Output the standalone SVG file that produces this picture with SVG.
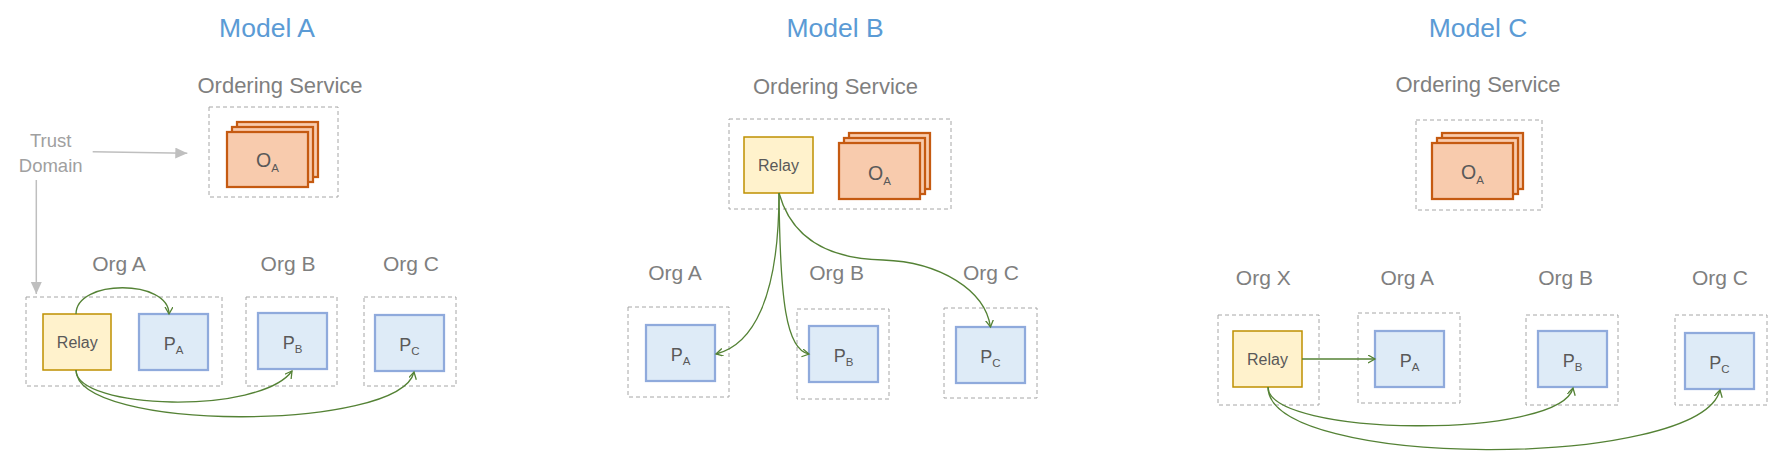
<svg xmlns="http://www.w3.org/2000/svg" width="1783" height="472" viewBox="0 0 1783 472">
<defs>
<style>
text{font-family:"Liberation Sans",Arial,sans-serif;text-anchor:middle}
.title{font-size:26.5px;fill:#5B9BD5}
.lbl{font-size:22px;fill:#7F7F7F}
.org{font-size:21px;fill:#7F7F7F}
.trust{font-size:18.5px;fill:#A0A0A0}
.dash{fill:none;stroke:#A6A6A6;stroke-width:1;stroke-dasharray:4 3}
.ord{fill:#F8CBAD;stroke:#C55A11;stroke-width:2.25}
.relay{fill:#FFF2CC;stroke:#BF9000;stroke-width:1.5}
.peer{fill:#DEEBF7;stroke:#8FAADC;stroke-width:2.25}
.rt{font-size:16px;fill:#595959}
.pt{font-size:18px;fill:#595959}
.ot{font-size:19.5px;fill:#595959}
.sub{font-size:11.5px}
.conn{fill:none;stroke:#548235;stroke-width:1.3}
.gray{fill:none;stroke:#BFBFBF;stroke-width:1.5}
</style>
<marker id="open" markerUnits="userSpaceOnUse" markerWidth="10" markerHeight="10" refX="7" refY="4" orient="auto">
<path d="M0,0 L7,4 L0,8" fill="none" stroke="#548235" stroke-width="1.3"/>
</marker>
<marker id="tri" markerUnits="userSpaceOnUse" markerWidth="14" markerHeight="12" refX="12" refY="5.5" orient="auto">
<path d="M0,0 L12,5.5 L0,11 z" fill="#BFBFBF"/>
</marker>
</defs>

<!-- Model A -->
<g id="modelA-title"><text class="title" x="267" y="36.7">Model A</text></g>
<g id="modelA-ordering">
<text class="lbl" x="280" y="92.7">Ordering Service</text>
<rect class="dash" x="209" y="107" width="129" height="90"/>
<rect class="ord" x="237" y="122" width="81" height="55"/>
<rect class="ord" x="232" y="127" width="81" height="55"/>
<rect class="ord" x="227" y="132" width="81" height="55"/>
<text class="ot" x="267.5" y="166.7">O<tspan class="sub" dy="5">A</tspan></text>
</g>
<g id="modelA-trust">
<text class="trust" x="50.7" y="146.7">Trust</text>
<text class="trust" x="50.7" y="171.7">Domain</text>
</g>
<g id="modelA-orgA">
<text class="org" x="119" y="270.7">Org A</text>
<rect class="dash" x="26" y="297" width="196" height="89"/>
</g>
<g id="modelA-relay">
<rect class="relay" x="43" y="314" width="68" height="56"/>
<text class="rt" x="77.3" y="348.3">Relay</text>
</g>
<g id="modelA-pA">
<rect class="peer" x="139" y="314" width="69" height="56"/>
<text class="pt" x="173.5" y="350">P<tspan class="sub" dy="3.5">A</tspan></text>
</g>
<g id="modelA-orgB">
<text class="org" x="288" y="270.7">Org B</text>
<rect class="dash" x="246" y="297" width="91" height="89"/>
<rect class="peer" x="258" y="313" width="69" height="56"/>
<text class="pt" x="292.5" y="349">P<tspan class="sub" dy="3.5">B</tspan></text>
</g>
<g id="modelA-orgC">
<text class="org" x="411" y="270.7">Org C</text>
<rect class="dash" x="364" y="297" width="92" height="89"/>
<rect class="peer" x="375" y="315" width="69" height="56"/>
<text class="pt" x="409.5" y="351">P<tspan class="sub" dy="3.5">C</tspan></text>
</g>

<!-- Model B -->
<g id="modelB-title"><text class="title" x="835" y="36.7">Model B</text></g>
<g id="modelB-ordering">
<text class="lbl" x="835.5" y="93.8">Ordering Service</text>
<rect class="dash" x="729" y="119" width="222" height="90"/>
<rect class="ord" x="849" y="133" width="81" height="56"/>
<rect class="ord" x="844" y="138" width="81" height="56"/>
<rect class="ord" x="839" y="143" width="81" height="56"/>
<text class="ot" x="879.5" y="180">O<tspan class="sub" dy="5">A</tspan></text>
</g>
<g id="modelB-relay">
<rect class="relay" x="744" y="137" width="69" height="56"/>
<text class="rt" x="778.5" y="170.5">Relay</text>
</g>
<g id="modelB-orgA">
<text class="org" x="675" y="280">Org A</text>
<rect class="dash" x="628" y="307" width="101" height="90"/>
<rect class="peer" x="646" y="325" width="69" height="56"/>
<text class="pt" x="680.5" y="361">P<tspan class="sub" dy="3.5">A</tspan></text>
</g>
<g id="modelB-orgB">
<text class="org" x="836.7" y="280">Org B</text>
<rect class="dash" x="797" y="309" width="92" height="90"/>
<rect class="peer" x="809" y="326" width="69" height="56"/>
<text class="pt" x="843.5" y="362">P<tspan class="sub" dy="3.5">B</tspan></text>
</g>
<g id="modelB-orgC">
<text class="org" x="991" y="280">Org C</text>
<rect class="dash" x="944" y="308" width="93" height="90"/>
<rect class="peer" x="956" y="327" width="69" height="56"/>
<text class="pt" x="990.5" y="363">P<tspan class="sub" dy="3.5">C</tspan></text>
</g>

<!-- Model C -->
<g id="modelC-title"><text class="title" x="1478" y="36.7">Model C</text></g>
<g id="modelC-ordering">
<text class="lbl" x="1478" y="91.7">Ordering Service</text>
<rect class="dash" x="1416" y="120" width="126" height="90"/>
<rect class="ord" x="1442" y="133" width="81" height="56"/>
<rect class="ord" x="1437" y="138" width="81" height="56"/>
<rect class="ord" x="1432" y="143" width="81" height="56"/>
<text class="ot" x="1472.5" y="179">O<tspan class="sub" dy="5">A</tspan></text>
</g>
<g id="modelC-orgX">
<text class="org" x="1263.3" y="285">Org X</text>
<rect class="dash" x="1218" y="315" width="101" height="90"/>
</g>
<g id="modelC-relay">
<rect class="relay" x="1233" y="331" width="69" height="56"/>
<text class="rt" x="1267.5" y="364.5">Relay</text>
</g>
<g id="modelC-orgA">
<text class="org" x="1407.3" y="285">Org A</text>
<rect class="dash" x="1358" y="313" width="102" height="90"/>
<rect class="peer" x="1375" y="331" width="69" height="56"/>
<text class="pt" x="1409.5" y="367">P<tspan class="sub" dy="3.5">A</tspan></text>
</g>
<g id="modelC-orgB">
<text class="org" x="1565.7" y="285">Org B</text>
<rect class="dash" x="1526" y="315" width="92" height="90"/>
<rect class="peer" x="1538" y="331" width="69" height="56"/>
<text class="pt" x="1572.5" y="367">P<tspan class="sub" dy="3.5">B</tspan></text>
</g>
<g id="modelC-orgC">
<text class="org" x="1720" y="285">Org C</text>
<rect class="dash" x="1675" y="315" width="92" height="90"/>
<rect class="peer" x="1685" y="333" width="69" height="56"/>
<text class="pt" x="1719.5" y="369">P<tspan class="sub" dy="3.5">C</tspan></text>
</g>

<!-- Connectors -->
<g id="connectors">
<path class="gray" d="M92.7,151.7 L187.3,153.3" marker-end="url(#tri)"/>
<path class="gray" d="M36.3,180 L36.3,294" marker-end="url(#tri)"/>
<path class="conn" d="M76,314 C76,279 169,279 169,314" marker-end="url(#open)"/>
<path class="conn" d="M76,370 C76,410 260,415 292,371" marker-end="url(#open)"/>
<path class="conn" d="M76,370 C76,432 400,432 414,372" marker-end="url(#open)"/>
<path class="conn" d="M779,193 C779,300 752,345 716,354" marker-end="url(#open)"/>
<path class="conn" d="M779,193 C780,300 786,350 809,354" marker-end="url(#open)"/>
<path class="conn" d="M779,193 C792,240 830,259 883,260 C940,262 985,290 990.5,327" marker-end="url(#open)"/>
<path class="conn" d="M1302,359 L1375,359" marker-end="url(#open)"/>
<path class="conn" d="M1268,387 C1268,437 1560,440 1573,388" marker-end="url(#open)"/>
<path class="conn" d="M1268,387 C1268,470 1700,470 1720,390" marker-end="url(#open)"/>
</g>
</svg>
